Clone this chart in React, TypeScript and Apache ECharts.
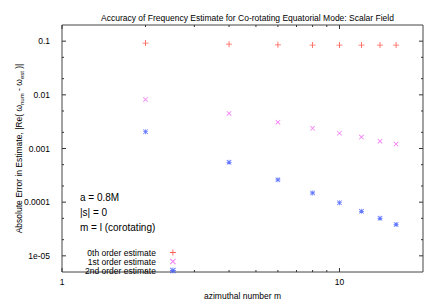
import React, { useEffect, useRef } from "react";
import * as echarts from "echarts";

const azimuthalM = [2, 4, 6, 8, 10, 12, 14, 16];
const order0 = [0.092, 0.088, 0.0855, 0.0845, 0.0845, 0.0845, 0.0845, 0.0845];
const order1 = [0.0082, 0.0045, 0.0031, 0.00238, 0.00192, 0.00163, 0.00137, 0.00121];
const order2 = [0.00205, 0.000553, 0.000261, 0.000149, 0.0000975, 0.0000675, 0.00005, 0.0000385];

const seriesNames = ["0th order estimate", "1st order estimate", "2nd order estimate"];

const xTickValues = [1, 10];
const xTickLabels = ["1", "10"];
const xMinorTicks = [2, 3, 4, 5, 6, 7, 8, 9];
const yTickValues = [0.1, 0.01, 0.001, 0.0001, 0.00001];
const yTickLabels = ["0.1", "0.01", "0.001", "0.0001", "1e-05"];
const yMinorTicks = [0.05, 0.02, 0.005, 0.002, 0.0005, 0.0002, 0.00005, 0.00002];

const annotations = ["a = 0.8M", "|s| = 0", "m = l (corotating)"];

const FONT = "Liberation Sans, Arial, Helvetica, sans-serif";

const PLUS = "path://M3,0H4V3H7V4H4V7H3V4H0V3H3Z";
const CROSS = "path://M0,0.8L0.8,0L7,6.2L6.2,7Z M6.2,0L7,0.8L0.8,7L0,6.2Z";
const STAR =
  "path://M3,0H4V3H7V4H4V7H3V4H0V3H3Z M0,0.8L0.8,0L7,6.2L6.2,7Z M6.2,0L7,0.8L0.8,7L0,6.2Z";

function matchLabel(v: number, values: number[], labels: string[]) {
  for (let i = 0; i < values.length; i++) {
    if (Math.abs(Math.log10(v) - Math.log10(values[i])) < 1e-6) return labels[i];
  }
  return "";
}

export default function App() {
  const ref = useRef<HTMLDivElement>(null);
  useEffect(() => {
    document.body.style.margin = "0";
    if (!ref.current) return;
    const chart = echarts.init(ref.current, null, { renderer: "svg" });

    const xTickData = [
      ...xTickValues.map((v) => [v, 0.001, 1]),
      ...xMinorTicks.map((v) => [v, 0.001, 0]),
    ];
    const yTickData = [
      ...yTickValues.map((v) => [2, v, 1]),
      ...yMinorTicks.map((v) => [2, v, 0]),
    ];

    const tickColor = "#333";

    chart.setOption({
      animation: false,
      backgroundColor: "#fff",
      textStyle: { fontFamily: FONT },
      title: {
        text: "Accuracy of Frequency Estimate for Co-rotating Equatorial Mode: Scalar Field",
        left: 242.5,
        textAlign: "center",
        top: 8,
        textStyle: { fontSize: 8.5, fontWeight: "normal", color: "#000", fontFamily: FONT },
      },
      grid: {
        left: 62,
        right: 13,
        top: 25,
        bottom: 28,
        show: true,
        borderColor: "#444",
        borderWidth: 1,
      },
      legend: {
        data: seriesNames,
        orient: "vertical",
        align: "right",
        left: 85,
        top: 248,
        itemWidth: 24,
        itemHeight: 6,
        itemGap: 0,
        padding: 0,
        selectedMode: false,
        textStyle: { fontSize: 8.5, color: "#000", fontFamily: FONT, lineHeight: 8.5 },
      },
      xAxis: {
        type: "log",
        logBase: 10,
        min: 1,
        max: 20,
        name: "azimuthal number m",
        nameLocation: "middle",
        nameGap: 19,
        nameMoveOverlap: false,
        nameTextStyle: { fontSize: 8.5, color: "#000", fontFamily: FONT },
        axisLine: { show: false },
        axisTick: { show: false },
        splitLine: { show: false },
        minorTick: { show: false },
        axisLabel: {
          fontSize: 8.5,
          color: "#000",
          margin: 5,
          showMaxLabel: false,
          formatter: (v: number) => matchLabel(v, xTickValues, xTickLabels),
        },
      },
      yAxis: {
        type: "log",
        logBase: 10,
        min: 0.000005,
        max: 0.2,
        name:
          "{n|Absolute Error in Estimate, |Re( ω}{s|num}{n| - ω}{s|est}{n| )|}",
        nameLocation: "middle",
        nameRotate: 90,
        nameGap: 37,
        nameMoveOverlap: false,
        nameTextStyle: {
          fontSize: 8.5,
          color: "#000",
          fontFamily: FONT,
          rich: {
            n: { fontSize: 8.5, lineHeight: 12, color: "#000", fontFamily: FONT },
            s: {
              fontSize: 6,
              lineHeight: 6,
              verticalAlign: "bottom",
              color: "#000",
              fontFamily: FONT,
            },
          },
        },
        axisLine: { show: false },
        axisTick: { show: false },
        splitLine: { show: false },
        minorTick: { show: false },
        axisLabel: {
          fontSize: 8.5,
          color: "#000",
          margin: 12,
          showMinLabel: false,
          showMaxLabel: false,
          formatter: (v: number) => matchLabel(v, yTickValues, yTickLabels),
        },
      },
      graphic: annotations.map((t, i) => ({
        type: "text",
        left: 80,
        top: 192 + i * 15,
        style: { text: t, fontSize: 10, fill: "#000", fontFamily: FONT },
        silent: true,
      })),
      series: [
        {
          name: seriesNames[0],
          type: "scatter",
          symbol: PLUS,
          symbolSize: 6,
          itemStyle: { color: "#ff3a2a" },
          data: azimuthalM.map((m, i) => [m, order0[i]]),
        },
        {
          name: seriesNames[1],
          type: "scatter",
          symbol: CROSS,
          symbolSize: 5,
          itemStyle: { color: "#f05cf0" },
          data: azimuthalM.map((m, i) => [m, order1[i]]),
        },
        {
          name: seriesNames[2],
          type: "scatter",
          symbol: STAR,
          symbolSize: 5,
          itemStyle: { color: "#3a55ff" },
          data: azimuthalM.map((m, i) => [m, order2[i]]),
        },
        {
          type: "custom",
          silent: true,
          z: 5,
          data: xTickData,
          renderItem: (params: any, api: any) => {
            const p = api.coord([api.value(0), api.value(1)]);
            const cs = params.coordSys;
            const len = api.value(2) ? 4 : 2;
            const bottom = cs.y + cs.height;
            return {
              type: "group",
              children: [
                {
                  type: "line",
                  shape: { x1: p[0], y1: bottom, x2: p[0], y2: bottom - len },
                  style: { stroke: tickColor, lineWidth: 1 },
                },
                {
                  type: "line",
                  shape: { x1: p[0], y1: cs.y, x2: p[0], y2: cs.y + len },
                  style: { stroke: tickColor, lineWidth: 1 },
                },
              ],
            };
          },
        },
        {
          type: "custom",
          silent: true,
          z: 5,
          data: yTickData,
          renderItem: (params: any, api: any) => {
            const p = api.coord([api.value(0), api.value(1)]);
            const cs = params.coordSys;
            const len = api.value(2) ? 4 : 2;
            const right = cs.x + cs.width;
            return {
              type: "group",
              children: [
                {
                  type: "line",
                  shape: { x1: cs.x, y1: p[1], x2: cs.x + len, y2: p[1] },
                  style: { stroke: tickColor, lineWidth: 1 },
                },
                {
                  type: "line",
                  shape: { x1: right, y1: p[1], x2: right - len, y2: p[1] },
                  style: { stroke: tickColor, lineWidth: 1 },
                },
              ],
            };
          },
        },
      ],
    });
    return () => chart.dispose();
  }, []);
  return (
    <div
      ref={ref}
      style={{ width: 436, height: 305, position: "fixed", left: 0, top: 0 }}
    />
  );
}
